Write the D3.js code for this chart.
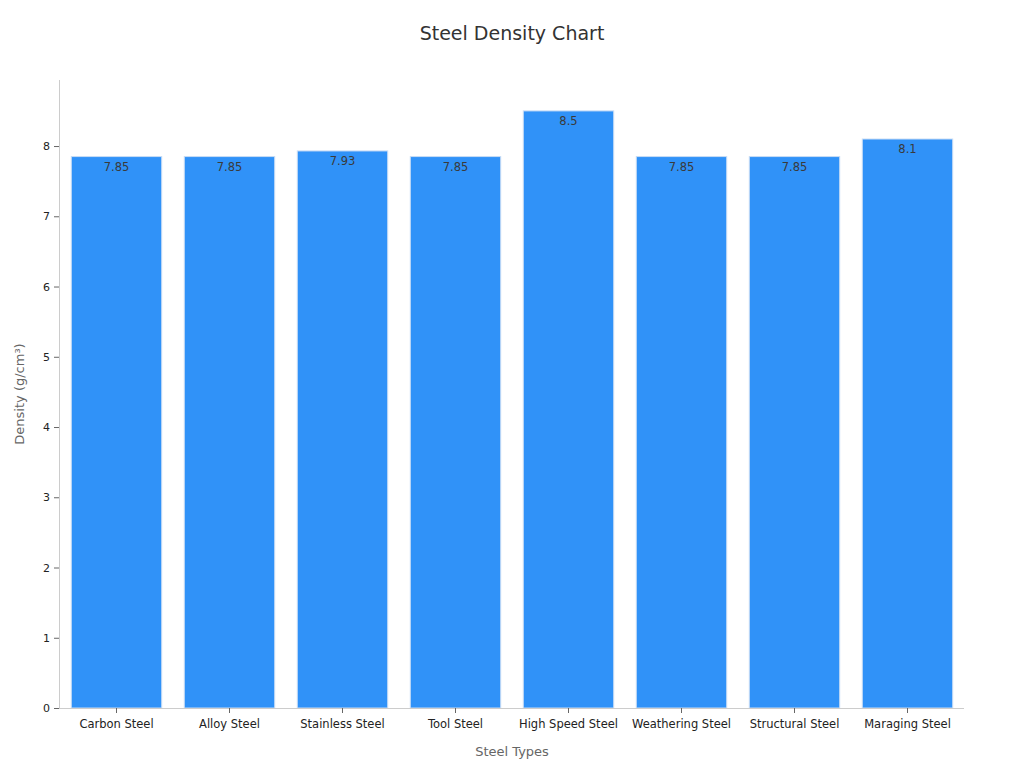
<!DOCTYPE html>
<html>
<head>
<meta charset="utf-8">
<script src="https://cdn.jsdelivr.net/npm/d3@7"></script>
<style>
body { margin: 0; background: #fff; font-family: "DejaVu Sans", sans-serif; }
</style>
</head>
<body>
<script>
var steelTypes = ['Carbon Steel', 'Alloy Steel', 'Stainless Steel', 'Tool Steel', 'High Speed Steel', 'Weathering Steel', 'Structural Steel', 'Maraging Steel'];
var densities = [7.85, 7.85, 7.93, 7.85, 8.5, 7.85, 7.85, 8.1];
var yTicks = [0, 1, 2, 3, 4, 5, 6, 7, 8];

// note: "top" is a reserved window global, so plot edges use other names
var width = 1024, height = 768,
	plotLeft = 60, plotRight = 964, plotTop = 80, plotBottom = 708;

var svg = d3.select('body').append('svg')
	.attr('width', width)
	.attr('height', height)

var xScale = d3.scaleBand()
	.domain(steelTypes)
	.range([plotLeft, plotRight])
	.paddingInner(0.2)
	.paddingOuter(0.1)

var yScale = d3.scaleLinear()
	.domain([0, 8.94])
	.range([plotBottom, plotTop])

// title
svg.append('text')
	.attr('x', 512).attr('y', 40)
	.attr('text-anchor', 'middle')
	.style('font-size', '19px')
	.style('fill', '#333')
	.text('Steel Density Chart')

// bars
svg.selectAll('rect.bar')
	.data(densities)
	.enter().append('rect')
		.attr('class', 'bar')
		.attr('x', function(d, i){ return xScale(steelTypes[i]) })
		.attr('width', xScale.bandwidth())
		.attr('y', function(d){ return yScale(d) })
		.attr('height', function(d){ return plotBottom - yScale(d) })
		.style('fill', '#3092f8')
		.style('stroke', '#c8dcf5')
		.style('stroke-width', 1)

// value labels
svg.selectAll('text.val')
	.data(densities)
	.enter().append('text')
		.attr('class', 'val')
		.attr('x', function(d, i){ return xScale(steelTypes[i]) + xScale.bandwidth() / 2 })
		.attr('y', function(d){ return yScale(d) + 14 })
		.attr('text-anchor', 'middle')
		.style('font-size', '11.5px')
		.style('fill', '#3a3a3a')
		.text(function(d){ return d })

// y axis
var yAxis = svg.append('g')
	.attr('transform', 'translate(' + (plotLeft - 1) + ',0)')
	.call(d3.axisLeft(yScale).tickValues(yTicks).tickSize(5).tickPadding(4))
yAxis.select('.domain').attr('stroke', '#ccc').attr('d', 'M0.5,' + plotTop + 'V' + plotBottom)
yAxis.selectAll('.tick line').attr('stroke', '#666')
yAxis.selectAll('text').style('font-size', '11px').style('fill', '#222').style('font-family', 'DejaVu Sans')

// x axis
var xAxis = svg.append('g')
	.attr('transform', 'translate(0,' + plotBottom + ')')
	.call(d3.axisBottom(xScale).tickSize(5).tickPadding(7))
xAxis.select('.domain').attr('stroke', '#ccc').attr('d', 'M' + (plotLeft - 1) + ',0.5H' + plotRight)
xAxis.selectAll('.tick line').attr('stroke', '#666')
xAxis.selectAll('text').style('font-size', '11.5px').style('fill', '#222').style('font-family', 'DejaVu Sans')

// axis titles
svg.append('text')
	.attr('x', (plotLeft + plotRight) / 2).attr('y', 756)
	.attr('text-anchor', 'middle')
	.style('font-size', '13px').style('fill', '#666')
	.text('Steel Types')

svg.append('text')
	.attr('transform', 'translate(24,' + (plotTop + plotBottom) / 2 + ') rotate(-90)')
	.attr('text-anchor', 'middle')
	.style('font-size', '13px').style('fill', '#666')
	.text('Density (g/cm³)')
</script>
</body>
</html>
